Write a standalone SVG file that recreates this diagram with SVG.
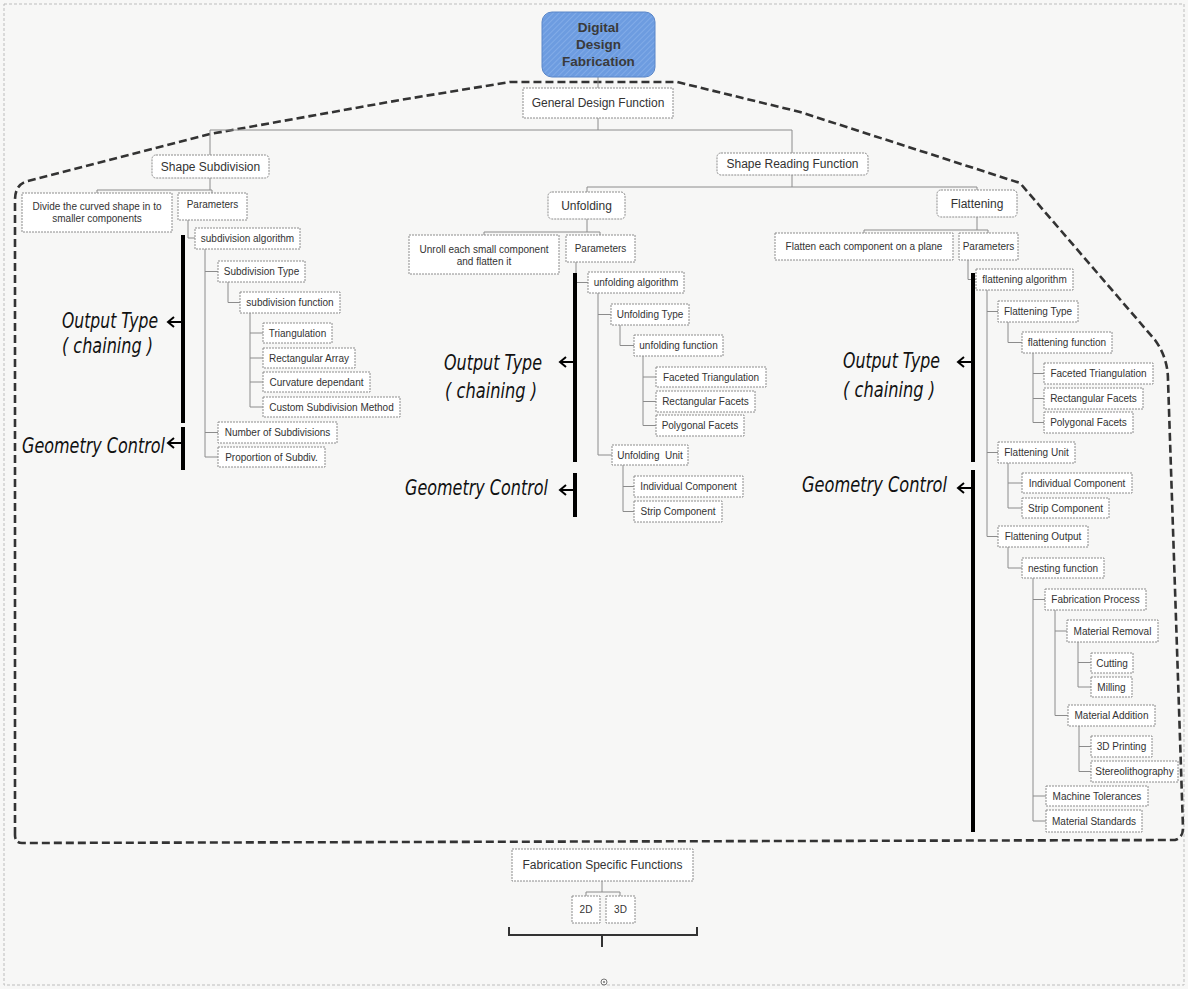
<svg xmlns="http://www.w3.org/2000/svg" width="1188" height="989" viewBox="0 0 1188 989">
<defs>
<pattern id="hatch" width="4" height="4" patternUnits="userSpaceOnUse" patternTransform="rotate(45)">
<rect width="4" height="4" fill="#6d9ce0"/>
<line x1="0" y1="0" x2="0" y2="4" stroke="#8fb5ec" stroke-width="1.2"/>
</pattern>
<style>
.box{fill:#fff;stroke:#8c8c8c;stroke-width:1;stroke-dasharray:2 1}
.t10{font-family:"Liberation Sans",Arial,sans-serif;font-size:10px;fill:#333;text-anchor:middle;dominant-baseline:central}
.t12{font-family:"Liberation Sans",Arial,sans-serif;font-size:12px;fill:#333;text-anchor:middle;dominant-baseline:central}
.top{font-family:"Liberation Sans",Arial,sans-serif;font-size:13.5px;font-weight:bold;fill:#3a3a3a;text-anchor:middle}
.conn{fill:none;stroke:#8c8c8c;stroke-width:1}
.bar{stroke:#000;stroke-width:4;fill:none}
.arr{stroke:#000;stroke-width:2;fill:none}
.lab{font-family:"Liberation Sans Narrow","DejaVu Sans Condensed","Liberation Sans",sans-serif;font-style:italic;font-size:21px;fill:#111}
</style>
</defs>
<rect width="1188" height="989" fill="#f7f7f6"/>
<rect x="4" y="4" width="1180" height="981" fill="none" stroke="#bdbdbd" stroke-width="1" stroke-dasharray="3 2"/>

<g id="enclosure">
<path d="M15,835 V200 Q15,184 28,181 L210,134 L400,100 L510,82 L677,82 L800,112 L1020,183 L1155,340 Q1168,358 1168,380 L1183,828 Q1183,838 1175,840 L22,843 Q15,843 15,835 Z" fill="none" stroke="#333" stroke-width="2.6" stroke-dasharray="8 4"/>
</g>

<g id="connectors">
<path class="conn" d="M598,77V88 M598,118V130 M210,130H792 M210,130V155 M792,130V153"/>
<path class="conn" d="M210,178V190 M97,190H212 M97,190V193 M212,190V193 M188,220V238H195"/>
<path class="conn" d="M205,249V457 M205,271.5H218 M205,432.5H218 M205,457H218 M228,282V302.5H240"/>
<path class="conn" d="M250,313V407 M250,333H263 M250,358H263 M250,382H263 M250,407H263"/>
<path class="conn" d="M792,175V187 M587,187H977 M587,187V192 M977,187V190"/>
<path class="conn" d="M587,219V232 M484,232H600 M484,232V235 M600,232V235 M576,262V282.5H588"/>
<path class="conn" d="M598,293V455 M598,314.5H611 M598,455H612 M620,325V345.5H634"/>
<path class="conn" d="M643,356V425.5 M643,377H656 M643,401.5H656 M643,425.5H656"/>
<path class="conn" d="M623,465V511.5 M623,486.5H634 M623,511.5H634"/>
<path class="conn" d="M977,217V230 M864,230H988 M864,230V233 M988,230V233 M968,260V279.5H976"/>
<path class="conn" d="M987,290V536.5 M987,311.5H998 M987,452.5H998 M987,536.5H998 M1008,322V342.5H1022"/>
<path class="conn" d="M1033,353V422.5 M1033,373.5H1044 M1033,398.5H1044 M1033,422.5H1044"/>
<path class="conn" d="M1008,463V508 M1008,483H1022 M1008,508H1022 M1008,547V568H1022"/>
<path class="conn" d="M1033,578V821 M1033,599.5H1045 M1033,796H1046 M1033,821H1046"/>
<path class="conn" d="M1055,610V715.5 M1055,631H1067 M1055,715.5H1068"/>
<path class="conn" d="M1078,642V687 M1078,662.5H1091 M1078,687H1091"/>
<path class="conn" d="M1079,726V771.5 M1079,746.5H1091 M1079,771.5H1091"/>
<path class="conn" d="M602,881V892 M586,892H620 M586,892V896 M620,892V896"/>
<path d="M509,927V935H697V927 M602,935V947" fill="none" stroke="#333" stroke-width="2"/>
</g>

<g id="bars">
<path class="bar" d="M183,235V423 M183,427V470"/>
<path class="bar" d="M575,273V462 M575,473V517"/>
<path class="bar" d="M973,273V462 M973,470V832"/>
<path class="arr" d="M181,322H169 M174,317L168,322L174,327"/>
<path class="arr" d="M181,443H169 M174,438L168,443L174,448"/>
<path class="arr" d="M573,362H561 M566,357L560,362L566,367"/>
<path class="arr" d="M573,490H561 M566,485L560,490L566,495"/>
<path class="arr" d="M971,362H959 M964,357L958,362L964,367"/>
<path class="arr" d="M971,488H959 M964,483L958,488L964,493"/>
</g>

<g id="labels">
<text class="lab" x="62" y="328" textLength="96" lengthAdjust="spacingAndGlyphs">Output Type</text>
<text class="lab" x="62" y="353" textLength="91" lengthAdjust="spacingAndGlyphs">( chaining )</text>
<text class="lab" x="22" y="453" textLength="143" lengthAdjust="spacingAndGlyphs">Geometry Control</text>
<text class="lab" x="444" y="370" textLength="98" lengthAdjust="spacingAndGlyphs">Output Type</text>
<text class="lab" x="445" y="398" textLength="92" lengthAdjust="spacingAndGlyphs">( chaining )</text>
<text class="lab" x="405" y="495" textLength="143" lengthAdjust="spacingAndGlyphs">Geometry Control</text>
<text class="lab" x="843" y="368" textLength="97" lengthAdjust="spacingAndGlyphs">Output Type</text>
<text class="lab" x="843" y="397" textLength="92" lengthAdjust="spacingAndGlyphs">( chaining )</text>
<text class="lab" x="802" y="492" textLength="145" lengthAdjust="spacingAndGlyphs">Geometry Control</text>
</g>

<g id="n-top"><rect x="542" y="12" width="113" height="65" rx="10" fill="url(#hatch)" stroke="#5a86c8" stroke-width="1"/>
<text class="top" x="598.5" y="32">Digital</text><text class="top" x="598.5" y="49">Design</text><text class="top" x="598.5" y="66">Fabrication</text></g>
<g id="n-gdf"><rect class="box" x="523" y="88" width="150" height="30"/><text class="t12" x="598" y="103">General Design Function</text></g>
<g id="n-ss"><rect class="box" x="152" y="155" width="117" height="23" rx="4"/><text class="t12" x="210.5" y="166.5">Shape Subdivision</text></g>
<g id="n-srf"><rect class="box" x="717" y="153" width="151" height="22" rx="4"/><text class="t12" x="792.5" y="164">Shape Reading Function</text></g>
<g id="n-divide"><rect class="box" x="22" y="193" width="150" height="39"/><text class="t10" x="97" y="206.5">Divide the curved shape in to</text><text class="t10" x="97" y="218.5">smaller components</text></g>
<g id="n-ss-params"><rect class="box" x="178" y="193" width="69" height="27"/><text class="t10" x="212.5" y="204">Parameters</text></g>
<g id="n-sub-alg"><rect class="box" x="195" y="228" width="105" height="21"/><text class="t10" x="247.5" y="238.5">subdivision algorithm</text></g>
<g id="n-sub-type"><rect class="box" x="218" y="261" width="87" height="21"/><text class="t10" x="261.5" y="271.5">Subdivision Type</text></g>
<g id="n-sub-func"><rect class="box" x="240" y="292" width="100" height="21"/><text class="t10" x="290" y="302.5">subdivision function</text></g>
<g id="n-tri"><rect class="box" x="263" y="323" width="69" height="20"/><text class="t10" x="297.5" y="333">Triangulation</text></g>
<g id="n-rect-array"><rect class="box" x="263" y="348" width="92" height="20"/><text class="t10" x="309" y="358">Rectangular Array</text></g>
<g id="n-curv"><rect class="box" x="263" y="372" width="107" height="20"/><text class="t10" x="316.5" y="382">Curvature dependant</text></g>
<g id="n-custom"><rect class="box" x="263" y="397" width="137" height="20"/><text class="t10" x="331.5" y="407">Custom Subdivision Method</text></g>
<g id="n-numsub"><rect class="box" x="218" y="422" width="119" height="21"/><text class="t10" x="277.5" y="432.5">Number of Subdivisions</text></g>
<g id="n-prop"><rect class="box" x="218" y="447" width="107" height="20"/><text class="t10" x="271.5" y="457">Proportion of Subdiv.</text></g>

<g id="n-unfolding"><rect class="box" x="548" y="192" width="77" height="27" rx="4"/><text class="t12" x="586.5" y="205.5">Unfolding</text></g>
<g id="n-unroll"><rect class="box" x="409" y="235" width="150" height="39"/><text class="t10" x="484" y="249">Unroll each small component</text><text class="t10" x="484" y="261">and flatten it</text></g>
<g id="n-uf-params"><rect class="box" x="566" y="235" width="69" height="27"/><text class="t10" x="600.5" y="248">Parameters</text></g>
<g id="n-uf-alg"><rect class="box" x="588" y="272" width="96" height="21"/><text class="t10" x="636" y="282.5">unfolding algorithm</text></g>
<g id="n-uf-type"><rect class="box" x="611" y="304" width="78" height="21"/><text class="t10" x="650" y="314.5">Unfolding Type</text></g>
<g id="n-uf-func"><rect class="box" x="634" y="335" width="89" height="21"/><text class="t10" x="678.5" y="345.5">unfolding function</text></g>
<g id="n-uf-ft"><rect class="box" x="656" y="367" width="110" height="20"/><text class="t10" x="711" y="377">Faceted Triangulation</text></g>
<g id="n-uf-rf"><rect class="box" x="656" y="391" width="99" height="21"/><text class="t10" x="705.5" y="401.5">Rectangular Facets</text></g>
<g id="n-uf-pf"><rect class="box" x="656" y="415" width="88" height="21"/><text class="t10" x="700" y="425.5">Polygonal Facets</text></g>
<g id="n-uf-unit"><rect class="box" x="612" y="445" width="76" height="20"/><text class="t10" x="650" y="455" xml:space="preserve">Unfolding  Unit</text></g>
<g id="n-uf-ic"><rect class="box" x="634" y="476" width="109" height="21"/><text class="t10" x="688.5" y="486.5">Individual Component</text></g>
<g id="n-uf-sc"><rect class="box" x="634" y="501" width="88" height="21"/><text class="t10" x="678" y="511.5">Strip Component</text></g>

<g id="n-flattening"><rect class="box" x="937" y="190" width="80" height="27" rx="4"/><text class="t12" x="977" y="203.5">Flattening</text></g>
<g id="n-flatten-each"><rect class="box" x="775" y="233" width="178" height="27"/><text class="t10" x="864" y="246.5">Flatten each component on a plane</text></g>
<g id="n-fl-params"><rect class="box" x="959" y="233" width="59" height="27"/><text class="t10" x="988.5" y="246.5">Parameters</text></g>
<g id="n-fl-alg"><rect class="box" x="976" y="269" width="97" height="21"/><text class="t10" x="1024.5" y="279.5">flattening algorithm</text></g>
<g id="n-fl-type"><rect class="box" x="998" y="301" width="80" height="21"/><text class="t10" x="1038" y="311.5">Flattening Type</text></g>
<g id="n-fl-func"><rect class="box" x="1022" y="332" width="90" height="21"/><text class="t10" x="1067" y="342.5">flattening function</text></g>
<g id="n-fl-ft"><rect class="box" x="1044" y="363" width="109" height="21"/><text class="t10" x="1098.5" y="373.5">Faceted Triangulation</text></g>
<g id="n-fl-rf"><rect class="box" x="1044" y="388" width="99" height="21"/><text class="t10" x="1093.5" y="398.5">Rectangular Facets</text></g>
<g id="n-fl-pf"><rect class="box" x="1044" y="412" width="89" height="21"/><text class="t10" x="1088.5" y="422.5">Polygonal Facets</text></g>
<g id="n-fl-unit"><rect class="box" x="998" y="442" width="77" height="21"/><text class="t10" x="1036.5" y="452.5">Flattening Unit</text></g>
<g id="n-fl-ic"><rect class="box" x="1022" y="473" width="110" height="20"/><text class="t10" x="1077" y="483">Individual Component</text></g>
<g id="n-fl-sc"><rect class="box" x="1022" y="498" width="87" height="20"/><text class="t10" x="1065.5" y="508">Strip Component</text></g>
<g id="n-fl-out"><rect class="box" x="998" y="526" width="90" height="21"/><text class="t10" x="1043" y="536.5">Flattening Output</text></g>
<g id="n-nest"><rect class="box" x="1022" y="558" width="82" height="20"/><text class="t10" x="1063" y="568">nesting function</text></g>
<g id="n-fab-proc"><rect class="box" x="1045" y="589" width="101" height="21"/><text class="t10" x="1095.5" y="599.5">Fabrication Process</text></g>
<g id="n-mat-rem"><rect class="box" x="1067" y="620" width="91" height="22"/><text class="t10" x="1112.5" y="631">Material Removal</text></g>
<g id="n-cutting"><rect class="box" x="1091" y="653" width="42" height="20"/><text class="t10" x="1112" y="663">Cutting</text></g>
<g id="n-milling"><rect class="box" x="1091" y="677" width="41" height="20"/><text class="t10" x="1111.5" y="687">Milling</text></g>
<g id="n-mat-add"><rect class="box" x="1068" y="705" width="87" height="21"/><text class="t10" x="1111.5" y="715.5">Material Addition</text></g>
<g id="n-print3d"><rect class="box" x="1091" y="736" width="61" height="21"/><text class="t10" x="1121.5" y="746.5">3D Printing</text></g>
<g id="n-stereo"><rect class="box" x="1091" y="761" width="87" height="21"/><text class="t10" x="1134.5" y="771.5">Stereolithography</text></g>
<g id="n-mach-tol"><rect class="box" x="1046" y="786" width="102" height="20"/><text class="t10" x="1097" y="796">Machine Tolerances</text></g>
<g id="n-mat-std"><rect class="box" x="1046" y="810" width="96" height="22"/><text class="t10" x="1094" y="821">Material Standards</text></g>

<g id="n-fsf"><rect class="box" x="512" y="849" width="181" height="32"/><text class="t12" x="602.5" y="865">Fabrication Specific Functions</text></g>
<g id="n-2d"><rect class="box" x="572" y="896" width="28" height="27"/><text class="t10" x="586" y="909.5">2D</text></g>
<g id="n-3d"><rect class="box" x="606" y="896" width="29" height="27"/><text class="t10" x="620.5" y="909.5">3D</text></g>
<g id="mark"><circle cx="604" cy="982" r="3" fill="none" stroke="#777" stroke-width="1"/><circle cx="604" cy="982" r="1" fill="#777"/></g>
</svg>
